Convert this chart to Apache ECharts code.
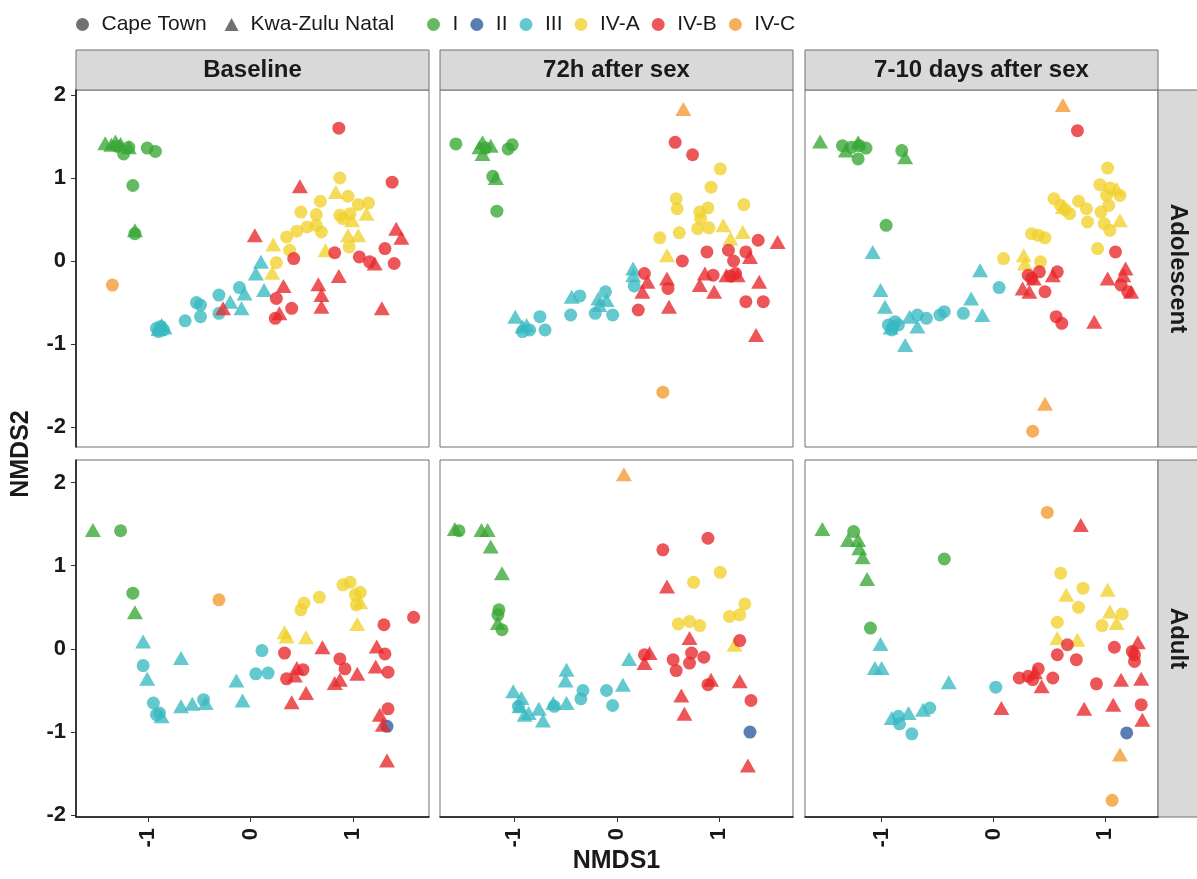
<!DOCTYPE html>
<html>
<head>
<meta charset="utf-8">
<title>NMDS</title>
<style>
    html, body { margin: 0; padding: 0; background: #fff; }
    #main { width: 1197px; height: 879px; }
</style>
</head>
<body>
<div id="main"></div>
<script src="https://cdn.jsdelivr.net/npm/echarts@6/dist/echarts.min.js"></script>
<script type="text/javascript">
    // categories
    var groups = ['I', 'II', 'III', 'IV-A', 'IV-B', 'IV-C'];
    var groupColors = ['#37A735', '#2C5A9E', '#38B8C2', '#F1D12A', '#E8262A', '#F4982E'];
    var sites = ['Cape Town', 'Kwa-Zulu Natal'];   // C = circle, K = triangle
    var timepoints = ['Baseline', '72h after sex', '7-10 days after sex'];
    var ageGroups = ['Adolescent', 'Adult'];
    var xTicks = [-1, 0, 1];
    var yTicks = [-2, -1, 0, 1, 2];
    var xRanges = [[-1.705, 1.74], [-1.725, 1.72], [-1.685, 1.47]];
    var yRanges = [[-2.24, 2.06], [-2.02, 2.27]];

    // points: [NMDS1, NMDS2, group, site]
    var adolescentBaseline = [
        [-1.42,1.42,'I','K'],[-1.36,1.40,'I','K'],[-1.32,1.44,'I','K'],[-1.27,1.41,'I','K'],[-1.19,1.37,'I','K'],[-1.13,0.37,'I','K'],
        [-1.30,1.38,'I','C'],[-1.24,1.29,'I','C'],[-1.19,1.37,'I','C'],[-1.01,1.36,'I','C'],[-0.93,1.32,'I','C'],[-1.15,0.91,'I','C'],[-1.13,0.33,'I','C'],
        [-1.35,-0.29,'IV-C','C'],
        [0.87,1.00,'IV-A','C'],[0.95,0.78,'IV-A','C'],[0.68,0.72,'IV-A','C'],[1.05,0.68,'IV-A','C'],[1.15,0.70,'IV-A','C'],[0.49,0.59,'IV-A','C'],
        [0.64,0.56,'IV-A','C'],[0.87,0.55,'IV-A','C'],[0.97,0.57,'IV-A','C'],[0.90,0.51,'IV-A','C'],[0.64,0.43,'IV-A','C'],[0.55,0.41,'IV-A','C'],
        [0.45,0.36,'IV-A','C'],[0.35,0.29,'IV-A','C'],[0.69,0.35,'IV-A','C'],[0.96,0.17,'IV-A','C'],[0.38,0.13,'IV-A','C'],[0.25,-0.02,'IV-A','C'],
        [0.83,0.83,'IV-A','K'],[1.13,0.57,'IV-A','K'],[0.99,0.49,'IV-A','K'],[0.95,0.31,'IV-A','K'],[1.05,0.31,'IV-A','K'],[0.73,0.13,'IV-A','K'],
        [0.22,0.20,'IV-A','K'],[0.21,-0.14,'IV-A','K'],
        [0.86,1.60,'IV-B','C'],[1.38,0.95,'IV-B','C'],[0.42,0.03,'IV-B','C'],[0.82,0.10,'IV-B','C'],[1.06,0.05,'IV-B','C'],[1.16,-0.01,'IV-B','C'],
        [1.31,0.15,'IV-B','C'],[1.40,-0.03,'IV-B','C'],[0.25,-0.45,'IV-B','C'],[0.24,-0.69,'IV-B','C'],[0.40,-0.57,'IV-B','C'],
        [0.48,0.90,'IV-B','K'],[0.04,0.31,'IV-B','K'],[1.21,-0.03,'IV-B','K'],[1.42,0.39,'IV-B','K'],[1.47,0.28,'IV-B','K'],[0.86,-0.18,'IV-B','K'],
        [0.66,-0.28,'IV-B','K'],[0.69,-0.41,'IV-B','K'],[0.69,-0.55,'IV-B','K'],[0.32,-0.30,'IV-B','K'],[0.28,-0.63,'IV-B','K'],[-0.27,-0.57,'IV-B','K'],
        [1.28,-0.57,'IV-B','K'],
        [0.10,-0.01,'III','K'],[0.05,-0.15,'III','K'],[0.13,-0.35,'III','K'],[-0.06,-0.39,'III','K'],[-0.09,-0.57,'III','K'],[-0.20,-0.49,'III','K'],
        [-0.87,-0.77,'III','K'],[-0.84,-0.80,'III','K'],[-0.90,-0.82,'III','K'],
        [-0.11,-0.32,'III','C'],[-0.31,-0.41,'III','C'],[-0.31,-0.63,'III','C'],[-0.49,-0.67,'III','C'],[-0.53,-0.50,'III','C'],[-0.49,-0.53,'III','C'],
        [-0.64,-0.72,'III','C'],[-0.92,-0.81,'III','C'],[-0.88,-0.79,'III','C'],[-0.85,-0.83,'III','C'],[-0.90,-0.85,'III','C']
    ];
    var adolescent72h = [
        [0.65,1.83,'IV-C','K'],[0.45,-1.58,'IV-C','C'],
        [-1.57,1.41,'I','C'],[-1.06,1.35,'I','C'],[-1.02,1.40,'I','C'],[-1.21,1.02,'I','C'],[-1.17,0.60,'I','C'],[-1.28,1.36,'I','C'],
        [-1.31,1.43,'I','K'],[-1.23,1.39,'I','K'],[-1.31,1.29,'I','K'],[-1.34,1.37,'I','K'],[-1.18,1.00,'I','K'],
        [0.57,1.43,'IV-B','C'],[0.74,1.28,'IV-B','C'],[1.38,0.25,'IV-B','C'],[0.88,0.11,'IV-B','C'],[1.09,0.13,'IV-B','C'],[1.26,0.11,'IV-B','C'],
        [1.14,0.00,'IV-B','C'],[0.64,0.00,'IV-B','C'],[1.16,-0.15,'IV-B','C'],[1.11,-0.18,'IV-B','C'],[0.94,-0.17,'IV-B','C'],[0.50,-0.33,'IV-B','C'],
        [0.27,-0.15,'IV-B','C'],[0.21,-0.59,'IV-B','C'],[1.26,-0.49,'IV-B','C'],[1.43,-0.49,'IV-B','C'],
        [1.57,0.23,'IV-B','K'],[1.30,0.05,'IV-B','K'],[1.07,-0.17,'IV-B','K'],[1.18,-0.17,'IV-B','K'],[0.86,-0.15,'IV-B','K'],[0.81,-0.29,'IV-B','K'],
        [0.95,-0.37,'IV-B','K'],[0.49,-0.21,'IV-B','K'],[1.39,-0.25,'IV-B','K'],[0.30,-0.25,'IV-B','K'],[0.25,-0.37,'IV-B','K'],[0.51,-0.55,'IV-B','K'],
        [1.36,-0.89,'IV-B','K'],
        [1.01,1.11,'IV-A','C'],[0.92,0.89,'IV-A','C'],[0.58,0.75,'IV-A','C'],[0.59,0.63,'IV-A','C'],[1.24,0.68,'IV-A','C'],[0.81,0.59,'IV-A','C'],
        [0.89,0.64,'IV-A','C'],[0.82,0.51,'IV-A','C'],[0.79,0.39,'IV-A','C'],[0.90,0.40,'IV-A','C'],[0.42,0.28,'IV-A','C'],[0.61,0.34,'IV-A','C'],
        [1.04,0.43,'IV-A','K'],[1.11,0.27,'IV-A','K'],[1.23,0.35,'IV-A','K'],[0.49,0.07,'IV-A','K'],
        [0.16,-0.09,'III','K'],[0.16,-0.17,'III','K'],[-0.44,-0.43,'III','K'],[-0.18,-0.45,'III','K'],[-0.10,-0.47,'III','K'],[-0.17,-0.53,'III','K'],
        [-0.99,-0.67,'III','K'],[-0.92,-0.79,'III','K'],[-0.88,-0.77,'III','K'],
        [0.17,-0.30,'III','C'],[-0.36,-0.42,'III','C'],[-0.45,-0.65,'III','C'],[-0.11,-0.37,'III','C'],[-0.21,-0.63,'III','C'],[-0.04,-0.65,'III','C'],
        [-0.85,-0.83,'III','C'],[-0.75,-0.67,'III','C'],[-0.70,-0.83,'III','C'],[-0.92,-0.85,'III','C']
    ];
    var adolescent7to10d = [
        [0.62,1.88,'IV-C','K'],[0.46,-1.72,'IV-C','K'],[0.35,-2.05,'IV-C','C'],
        [0.75,1.57,'IV-B','C'],[1.09,0.11,'IV-B','C'],[1.14,-0.29,'IV-B','C'],[1.20,-0.37,'IV-B','C'],[0.31,-0.17,'IV-B','C'],[0.41,-0.13,'IV-B','C'],
        [0.57,-0.13,'IV-B','C'],[0.46,-0.37,'IV-B','C'],[0.34,-0.21,'IV-B','C'],[0.56,-0.67,'IV-B','C'],[0.61,-0.75,'IV-B','C'],
        [1.18,-0.09,'IV-B','K'],[1.02,-0.21,'IV-B','K'],[1.16,-0.17,'IV-B','K'],[1.23,-0.37,'IV-B','K'],[0.26,-0.33,'IV-B','K'],[0.32,-0.37,'IV-B','K'],
        [0.53,-0.17,'IV-B','K'],[0.36,-0.21,'IV-B','K'],[0.90,-0.73,'IV-B','K'],
        [-1.55,1.44,'I','K'],[-1.32,1.33,'I','K'],[-1.21,1.43,'I','K'],[-0.79,1.25,'I','K'],
        [-1.35,1.39,'I','C'],[-1.27,1.37,'I','C'],[-1.20,1.39,'I','C'],[-1.14,1.36,'I','C'],[-1.21,1.23,'I','C'],[-0.82,1.33,'I','C'],[-0.96,0.43,'I','C'],
        [1.02,1.12,'IV-A','C'],[0.95,0.92,'IV-A','C'],[1.04,0.88,'IV-A','C'],[1.13,0.79,'IV-A','C'],[1.01,0.79,'IV-A','C'],[0.54,0.75,'IV-A','C'],
        [0.60,0.67,'IV-A','C'],[0.68,0.57,'IV-A','C'],[0.76,0.72,'IV-A','C'],[0.83,0.63,'IV-A','C'],[0.84,0.47,'IV-A','C'],[0.96,0.59,'IV-A','C'],
        [1.03,0.67,'IV-A','C'],[0.99,0.45,'IV-A','C'],[1.04,0.37,'IV-A','C'],[0.93,0.15,'IV-A','C'],[0.34,0.33,'IV-A','C'],[0.40,0.31,'IV-A','C'],
        [0.46,0.28,'IV-A','C'],[0.09,0.03,'IV-A','C'],[0.42,-0.01,'IV-A','C'],[0.64,0.62,'IV-A','C'],
        [1.10,0.87,'IV-A','K'],[1.13,0.49,'IV-A','K'],[0.27,0.07,'IV-A','K'],[0.28,-0.03,'IV-A','K'],[0.62,0.65,'IV-A','K'],
        [-1.08,0.11,'III','K'],[-1.01,-0.35,'III','K'],[-0.97,-0.55,'III','K'],[-0.75,-0.67,'III','K'],[-0.68,-0.79,'III','K'],[-0.79,-1.01,'III','K'],
        [-0.20,-0.45,'III','K'],[-0.10,-0.65,'III','K'],[-0.12,-0.11,'III','K'],[-0.92,-0.80,'III','K'],
        [-0.94,-0.77,'III','C'],[-0.90,-0.79,'III','C'],[-0.85,-0.77,'III','C'],[-0.91,-0.83,'III','C'],[-0.88,-0.73,'III','C'],[-0.68,-0.65,'III','C'],
        [-0.60,-0.69,'III','C'],[-0.48,-0.65,'III','C'],[-0.44,-0.61,'III','C'],[-0.27,-0.63,'III','C'],[0.05,-0.32,'III','C']
    ];
    var adultBaseline = [
        [-1.54,1.43,'I','K'],[-1.13,0.44,'I','K'],
        [-1.27,1.42,'I','C'],[-1.15,0.67,'I','C'],
        [-0.31,0.59,'IV-C','C'],
        [-1.05,0.09,'III','K'],[-1.01,-0.36,'III','K'],[-0.87,-0.81,'III','K'],[-0.68,-0.11,'III','K'],[-0.68,-0.69,'III','K'],[-0.57,-0.66,'III','K'],
        [-0.44,-0.65,'III','K'],[-0.14,-0.38,'III','K'],[-0.08,-0.62,'III','K'],
        [-1.05,-0.20,'III','C'],[-0.95,-0.65,'III','C'],[-0.92,-0.79,'III','C'],[-0.89,-0.77,'III','C'],[-0.46,-0.61,'III','C'],[0.11,-0.02,'III','C'],
        [0.05,-0.30,'III','C'],[0.17,-0.29,'III','C'],
        [0.90,0.77,'IV-A','C'],[0.97,0.80,'IV-A','C'],[1.02,0.65,'IV-A','C'],[1.07,0.68,'IV-A','C'],[1.03,0.53,'IV-A','C'],[0.67,0.62,'IV-A','C'],
        [0.52,0.55,'IV-A','C'],[0.49,0.47,'IV-A','C'],
        [1.07,0.56,'IV-A','K'],[1.04,0.30,'IV-A','K'],[0.33,0.20,'IV-A','K'],[0.35,0.15,'IV-A','K'],[0.54,0.14,'IV-A','K'],
        [1.59,0.38,'IV-B','C'],[1.30,0.29,'IV-B','C'],[1.31,-0.06,'IV-B','C'],[0.33,-0.05,'IV-B','C'],[0.87,-0.12,'IV-B','C'],[0.92,-0.24,'IV-B','C'],
        [1.34,-0.28,'IV-B','C'],[0.51,-0.25,'IV-B','C'],[0.35,-0.36,'IV-B','C'],[1.34,-0.72,'IV-B','C'],
        [0.70,0.02,'IV-B','K'],[1.23,0.03,'IV-B','K'],[1.22,-0.21,'IV-B','K'],[1.04,-0.30,'IV-B','K'],[0.45,-0.23,'IV-B','K'],[0.43,-0.32,'IV-B','K'],
        [0.82,-0.41,'IV-B','K'],[0.87,-0.37,'IV-B','K'],[0.54,-0.53,'IV-B','K'],[0.40,-0.64,'IV-B','K'],[1.26,-0.79,'IV-B','K'],[1.29,-0.91,'IV-B','K'],
        [1.33,-1.34,'IV-B','K'],
        [1.33,-0.93,'II','C']
    ];
    var adult72h = [
        [0.07,2.10,'IV-C','K'],
        [-1.58,1.44,'I','K'],[-1.32,1.43,'I','K'],[-1.26,1.43,'I','K'],[-1.23,1.23,'I','K'],[-1.12,0.91,'I','K'],[-1.16,0.31,'I','K'],
        [-1.54,1.42,'I','C'],[-1.15,0.47,'I','C'],[-1.16,0.41,'I','C'],[-1.12,0.23,'I','C'],
        [0.89,1.33,'IV-B','C'],[0.45,1.19,'IV-B','C'],[1.20,0.10,'IV-B','C'],[0.27,-0.07,'IV-B','C'],[0.55,-0.13,'IV-B','C'],[0.58,-0.26,'IV-B','C'],
        [0.73,-0.05,'IV-B','C'],[0.71,-0.17,'IV-B','C'],[0.85,-0.10,'IV-B','C'],[0.89,-0.43,'IV-B','C'],[1.31,-0.62,'IV-B','C'],
        [0.49,0.75,'IV-B','K'],[0.71,0.13,'IV-B','K'],[0.32,-0.05,'IV-B','K'],[0.27,-0.17,'IV-B','K'],[0.92,-0.37,'IV-B','K'],[1.20,-0.39,'IV-B','K'],
        [0.63,-0.56,'IV-B','K'],[0.66,-0.78,'IV-B','K'],[1.28,-1.40,'IV-B','K'],
        [1.01,0.92,'IV-A','C'],[0.75,0.80,'IV-A','C'],[1.25,0.54,'IV-A','C'],[1.20,0.41,'IV-A','C'],[1.10,0.39,'IV-A','C'],[0.60,0.30,'IV-A','C'],
        [0.71,0.33,'IV-A','C'],[0.81,0.28,'IV-A','C'],
        [1.15,0.05,'IV-A','K'],
        [1.30,-1.00,'II','C'],
        [0.12,-0.12,'III','K'],[0.06,-0.43,'III','K'],[-0.49,-0.25,'III','K'],[-0.50,-0.38,'III','K'],[-0.49,-0.65,'III','K'],[-0.62,-0.65,'III','K'],
        [-0.76,-0.72,'III','K'],[-0.72,-0.86,'III','K'],[-1.01,-0.51,'III','K'],[-0.93,-0.59,'III','K'],[-0.95,-0.69,'III','K'],[-0.90,-0.79,'III','K'],
        [-0.86,-0.77,'III','K'],
        [-0.10,-0.50,'III','C'],[-0.04,-0.68,'III','C'],[-0.33,-0.50,'III','C'],[-0.35,-0.60,'III','C'],[-0.61,-0.69,'III','C'],[-0.96,-0.69,'III','C']
    ];
    var adult7to10d = [
        [0.48,1.64,'IV-C','C'],[1.06,-1.82,'IV-C','C'],[1.13,-1.27,'IV-C','K'],
        [0.78,1.49,'IV-B','K'],[1.29,0.08,'IV-B','K'],[0.37,-0.28,'IV-B','K'],[0.43,-0.45,'IV-B','K'],[0.07,-0.71,'IV-B','K'],[0.81,-0.72,'IV-B','K'],
        [1.14,-0.37,'IV-B','K'],[1.32,-0.36,'IV-B','K'],[1.07,-0.67,'IV-B','K'],[1.33,-0.85,'IV-B','K'],
        [-1.53,1.44,'I','K'],[-1.30,1.31,'I','K'],[-1.21,1.31,'I','K'],[-1.20,1.21,'I','K'],[-1.17,1.10,'I','K'],[-1.13,0.84,'I','K'],
        [-1.25,1.41,'I','C'],[-0.44,1.08,'I','C'],[-1.10,0.25,'I','C'],
        [-1.01,0.06,'III','K'],[-1.06,-0.23,'III','K'],[-1.00,-0.23,'III','K'],[-0.40,-0.40,'III','K'],[-0.91,-0.83,'III','K'],[-0.76,-0.77,'III','K'],
        [-0.63,-0.73,'III','K'],
        [0.02,-0.46,'III','C'],[-0.85,-0.81,'III','C'],[-0.84,-0.90,'III','C'],[-0.57,-0.71,'III','C'],[-0.73,-1.02,'III','C'],
        [0.60,0.91,'IV-A','C'],[0.80,0.73,'IV-A','C'],[0.76,0.50,'IV-A','C'],[1.15,0.42,'IV-A','C'],[0.97,0.28,'IV-A','C'],[0.57,0.32,'IV-A','C'],
        [0.65,0.65,'IV-A','K'],[1.02,0.71,'IV-A','K'],[1.04,0.45,'IV-A','K'],[1.10,0.31,'IV-A','K'],[0.57,0.13,'IV-A','K'],[0.75,0.11,'IV-A','K'],
        [0.66,0.05,'IV-B','C'],[0.57,-0.07,'IV-B','C'],[0.74,-0.13,'IV-B','C'],[1.08,0.02,'IV-B','C'],[1.24,-0.03,'IV-B','C'],[1.26,-0.07,'IV-B','C'],
        [1.26,-0.15,'IV-B','C'],[0.23,-0.35,'IV-B','C'],[0.31,-0.33,'IV-B','C'],[0.35,-0.37,'IV-B','C'],[0.40,-0.24,'IV-B','C'],[0.53,-0.35,'IV-B','C'],
        [0.92,-0.42,'IV-B','C'],[1.32,-0.67,'IV-B','C'],
        [1.19,-1.01,'II','C']
    ];

    var panels = [
        [adolescentBaseline, adolescent72h, adolescent7to10d],
        [adultBaseline, adult72h, adult7to10d]
    ];

    var myChart = echarts.init(document.getElementById('main'));
    var FONT = '"Liberation Sans", Arial, Helvetica, sans-serif';
    var gridLeft = [76, 440, 805];
    var gridTop = [90, 460];
    var gridW = 353, gridH = 357;
    var textColor = '#1a1a1a';

    var grid = [], xAxis = [], yAxis = [], series = [], graphic = [];

    for (var r = 0; r < 2; r++) {
        for (var c = 0; c < 3; c++) {
            var idx = r * 3 + c;
            grid.push({
                left: gridLeft[c], top: gridTop[r], width: gridW, height: gridH,
                show: true, borderColor: '#707070', borderWidth: 1, backgroundColor: '#fff'
            });
            xAxis.push({
                gridIndex: idx, type: 'value',
                min: xRanges[c][0], max: xRanges[c][1],
                show: r === 1,
                splitLine: { show: false },
                axisLine: { onZero: false, lineStyle: { color: '#111', width: 1.5 } },
                axisTick: { customValues: xTicks, length: 5, lineStyle: { color: '#333' } },
                axisLabel: {
                    customValues: xTicks, rotate: 90, margin: 11,
                    fontSize: 22, fontWeight: 'bold', color: textColor, fontFamily: FONT
                }
            });
            yAxis.push({
                gridIndex: idx, type: 'value',
                min: yRanges[r][0], max: yRanges[r][1],
                show: c === 0,
                splitLine: { show: false },
                axisLine: { onZero: false, lineStyle: { color: '#111', width: 1.5 } },
                axisTick: { customValues: yTicks, length: 5, lineStyle: { color: '#333' } },
                axisLabel: {
                    customValues: yTicks, margin: 10,
                    fontSize: 22, fontWeight: 'bold', color: textColor, fontFamily: FONT
                }
            });

            var pts = panels[r][c];
            groups.forEach(function (g, gi) {
                series.push({
                    type: 'scatter',
                    name: g,
                    xAxisIndex: idx, yAxisIndex: idx,
                    itemStyle: { color: groupColors[gi], opacity: 0.78 },
                    emphasis: { disabled: true },
                    data: pts.filter(function (p) { return p[2] === g; }).map(function (p) {
                        return {
                            value: [p[0], p[1]],
                            symbol: p[3] === 'K' ? 'triangle' : 'circle',
                            symbolSize: p[3] === 'K' ? [16, 14] : 13
                        };
                    })
                });
            });
        }
    }

    // empty series so the shape legend has entries
    series.push({ type: 'scatter', name: sites[0], data: [], symbol: 'circle', itemStyle: { color: '#4d4d4d' } });
    series.push({ type: 'scatter', name: sites[1], data: [], symbol: 'triangle', itemStyle: { color: '#4d4d4d' } });

    // strips
    timepoints.forEach(function (t, c) {
        graphic.push({
            type: 'rect', shape: { x: gridLeft[c], y: 50, width: gridW, height: 40 },
            style: { fill: '#d9d9d9', stroke: '#707070', lineWidth: 1 }
        });
        graphic.push({
            type: 'text', x: gridLeft[c] + gridW / 2, y: 70,
            style: { text: t, fill: textColor, font: 'bold 24px ' + FONT, align: 'center', verticalAlign: 'middle' }
        });
    });
    ageGroups.forEach(function (a, r) {
        graphic.push({
            type: 'rect', shape: { x: gridLeft[2] + gridW, y: gridTop[r], width: 42, height: gridH },
            style: { fill: '#d9d9d9', stroke: '#707070', lineWidth: 1 }
        });
        graphic.push({
            type: 'text', x: 1178, y: gridTop[r] + gridH / 2, rotation: -Math.PI / 2,
            style: { text: a, fill: textColor, font: 'bold 24px ' + FONT, align: 'center', verticalAlign: 'middle' }
        });
    });
    // axis titles
    graphic.push({
        type: 'text', x: gridLeft[1] + gridW / 2, y: 861,
        style: { text: 'NMDS1', fill: textColor, font: 'bold 25px ' + FONT, align: 'center', verticalAlign: 'middle' }
    });
    graphic.push({
        type: 'text', x: 21, y: 454, rotation: Math.PI / 2,
        style: { text: 'NMDS2', fill: textColor, font: 'bold 25px ' + FONT, align: 'center', verticalAlign: 'middle' }
    });

    var legendText = { fontSize: 21, color: textColor, fontFamily: FONT, padding: [0, 0, 0, 7] };

    myChart.setOption({
        animation: false,
        backgroundColor: '#fff',
        legend: [
            {
                left: 71, top: 9, itemWidth: 14, itemHeight: 13, itemGap: 18,
                selectedMode: false,
                data: [{ name: sites[0], icon: 'circle' }, { name: sites[1], icon: 'triangle' }],
                textStyle: legendText
            },
            {
                left: 422, top: 9, itemWidth: 14, itemHeight: 13, itemGap: 12,
                data: groups.map(function (g) { return { name: g, icon: 'circle' }; }),
                textStyle: legendText
            }
        ],
        grid: grid,
        xAxis: xAxis,
        yAxis: yAxis,
        series: series,
        graphic: graphic
    });
</script>
</body>
</html>
